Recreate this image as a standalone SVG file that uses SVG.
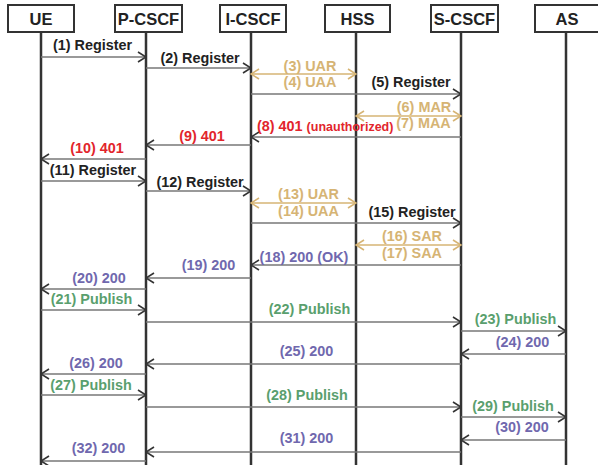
<svg xmlns="http://www.w3.org/2000/svg" width="598" height="465" viewBox="0 0 598 465">
<style>
.box{fill:#fff;stroke:#333;stroke-width:2}
.life{stroke:#333;stroke-width:2.5}
.hdr{font-family:"Liberation Sans",Arial,sans-serif;font-weight:bold;font-size:16.5px;fill:#222;text-anchor:middle}
.lbl{font-family:"Liberation Sans",Arial,sans-serif;font-weight:bold;font-size:14.4px;text-anchor:middle}
.msg{stroke:#777;stroke-width:1.5;fill:none;marker-end:url(#ah)}
.dia{stroke:#d6b474;stroke-width:1.5;fill:none;marker-start:url(#ag);marker-end:url(#ag)}
.k{fill:#222}.r{fill:#e2252c}.p{fill:#7068ae}.g{fill:#5a9f6e}.y{fill:#d6b474}
</style>
<defs>
<marker id="ah" markerUnits="userSpaceOnUse" markerWidth="10" markerHeight="12" viewBox="0 0 10 12" refX="9" refY="6" orient="auto">
<path d="M1,1 L9,6 L1,11" fill="none" stroke="#333" stroke-width="1.6"/>
</marker>
<marker id="ag" markerUnits="userSpaceOnUse" markerWidth="10" markerHeight="12" viewBox="0 0 10 12" refX="9" refY="6" orient="auto-start-reverse">
<path d="M1,1 L9,6 L1,11" fill="none" stroke="#d6b474" stroke-width="1.6"/>
</marker>
</defs>
<rect width="598" height="465" fill="#fff"/>
<g id="UE"><line class="life" x1="41" y1="32" x2="41" y2="465"/><rect class="box" x="8" y="5" width="66" height="27"/><text class="hdr" x="41" y="24.5">UE</text></g>
<g id="P-CSCF"><line class="life" x1="146" y1="32" x2="146" y2="465"/><rect class="box" x="115" y="5" width="67" height="27"/><text class="hdr" x="148.5" y="24.5">P-CSCF</text></g>
<g id="I-CSCF"><line class="life" x1="251" y1="32" x2="251" y2="465"/><rect class="box" x="220" y="5" width="66" height="27"/><text class="hdr" x="253" y="24.5">I-CSCF</text></g>
<g id="HSS"><line class="life" x1="356" y1="32" x2="356" y2="465"/><rect class="box" x="325" y="5" width="65" height="27"/><text class="hdr" x="357.5" y="24.5">HSS</text></g>
<g id="S-CSCF"><line class="life" x1="461" y1="32" x2="461" y2="465"/><rect class="box" x="431" y="5" width="67" height="27"/><text class="hdr" x="464.5" y="24.5">S-CSCF</text></g>
<g id="AS"><line class="life" x1="566" y1="32" x2="566" y2="465"/><rect class="box" x="535" y="5" width="66" height="27"/><text class="hdr" x="567" y="24.5">AS</text></g>
<g id="connectors">
<line class="msg" x1="41" y1="57" x2="146" y2="57"/>
<line class="msg" x1="146" y1="68" x2="251" y2="68"/>
<line class="dia" x1="251" y1="74" x2="356" y2="74"/>
<line class="msg" x1="251" y1="94" x2="461" y2="94"/>
<line class="dia" x1="356" y1="116" x2="461" y2="116"/>
<line class="msg" x1="461" y1="137" x2="251" y2="137"/>
<line class="msg" x1="251" y1="145" x2="146" y2="145"/>
<line class="msg" x1="146" y1="159" x2="41" y2="159"/>
<line class="msg" x1="41" y1="181" x2="146" y2="181"/>
<line class="msg" x1="146" y1="191" x2="251" y2="191"/>
<line class="dia" x1="251" y1="203" x2="356" y2="203"/>
<line class="msg" x1="251" y1="223" x2="461" y2="223"/>
<line class="dia" x1="356" y1="245" x2="461" y2="245"/>
<line class="msg" x1="461" y1="265" x2="251" y2="265"/>
<line class="msg" x1="251" y1="278" x2="146" y2="278"/>
<line class="msg" x1="146" y1="289" x2="41" y2="289"/>
<line class="msg" x1="41" y1="310" x2="146" y2="310"/>
<line class="msg" x1="146" y1="322" x2="461" y2="322"/>
<line class="msg" x1="461" y1="331" x2="566" y2="331"/>
<line class="msg" x1="566" y1="354" x2="461" y2="354"/>
<line class="msg" x1="461" y1="364" x2="146" y2="364"/>
<line class="msg" x1="146" y1="374" x2="41" y2="374"/>
<line class="msg" x1="41" y1="395" x2="146" y2="395"/>
<line class="msg" x1="146" y1="407" x2="461" y2="407"/>
<line class="msg" x1="461" y1="417" x2="566" y2="417"/>
<line class="msg" x1="566" y1="440" x2="461" y2="440"/>
<line class="msg" x1="461" y1="452" x2="146" y2="452"/>
<line class="msg" x1="146" y1="461" x2="41" y2="461"/>
</g>
<g id="labels">
<text class="lbl k" x="92.5" y="50">(1) Register</text>
<text class="lbl k" x="200" y="63">(2) Register</text>
<text class="lbl y" x="310" y="71">(3) UAR</text>
<text class="lbl y" x="310" y="87">(4) UAA</text>
<text class="lbl k" x="411" y="87">(5) Register</text>
<text class="lbl y" x="424" y="112">(6) MAR</text>
<text class="lbl y" x="423.5" y="128">(7) MAA</text>
<text class="r" x="257" y="131" font-family="Liberation Sans, Arial, sans-serif" font-weight="bold"><tspan font-size="14.4">(8) 401 </tspan><tspan font-size="12.5">(unauthorized)</tspan></text>
<text class="lbl r" x="202" y="141">(9) 401</text>
<text class="lbl r" x="97" y="153">(10) 401</text>
<text class="lbl k" x="93" y="175">(11) Register</text>
<text class="lbl k" x="200" y="187">(12) Register</text>
<text class="lbl y" x="308.5" y="199">(13) UAR</text>
<text class="lbl y" x="308.5" y="216">(14) UAA</text>
<text class="lbl k" x="412" y="217">(15) Register</text>
<text class="lbl y" x="412" y="241">(16) SAR</text>
<text class="lbl y" x="412" y="258">(17) SAA</text>
<text class="lbl p" x="304" y="262">(18) 200 (OK)</text>
<text class="lbl p" x="208.5" y="270">(19) 200</text>
<text class="lbl p" x="99" y="283">(20) 200</text>
<text class="lbl g" x="91.5" y="304">(21) Publish</text>
<text class="lbl g" x="309.5" y="314">(22) Publish</text>
<text class="lbl g" x="515.5" y="324">(23) Publish</text>
<text class="lbl p" x="522.5" y="347">(24) 200</text>
<text class="lbl p" x="306.5" y="356">(25) 200</text>
<text class="lbl p" x="96" y="368">(26) 200</text>
<text class="lbl g" x="91" y="390">(27) Publish</text>
<text class="lbl g" x="307" y="400">(28) Publish</text>
<text class="lbl g" x="513" y="411">(29) Publish</text>
<text class="lbl p" x="522" y="432">(30) 200</text>
<text class="lbl p" x="306.5" y="443">(31) 200</text>
<text class="lbl p" x="98.5" y="453">(32) 200</text>
</g>
</svg>
